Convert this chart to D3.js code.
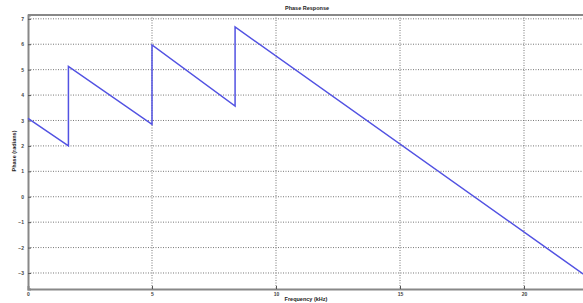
<!DOCTYPE html>
<html>
<head>
<meta charset="utf-8">
<script src="https://cdn.jsdelivr.net/npm/d3@7"></script>
<style>
  body { margin: 0; background: #fff; }
  svg { display: block; font-family: "Liberation Sans", Arial, sans-serif; }
</style>
</head>
<body>
<svg id="chart" width="583" height="303"></svg>
<script>
// vertices of the phase curve
var freq  = [0, 1.63, 1.63, 5.0, 5.0, 8.35, 8.35, 22.5];
var phase = [3.08, 2.0, 5.13, 2.85, 5.97, 3.57, 6.68, -3.12];
var xTicks = [0, 5, 10, 15, 20];
var yTicks = [-3, -2, -1, 0, 1, 2, 3, 4, 5, 6, 7];

function phaseChart(){
    var svg = d3.select('#chart');
    var pLeft = 28, pRight = 586, pTop = 15, pBottom = 289;

    var x = d3.scaleLinear().domain([0, 22.5]).range([pLeft, pRight]);
    var y = d3.scaleLinear().domain([-3.63, 7.15]).range([pBottom, pTop]);

    // grid
    svg.append('g').selectAll('line').data(xTicks.slice(1)).enter().append('line')
        .attr('x1', function(d){ return x(d); }).attr('x2', function(d){ return x(d); })
        .attr('y1', pTop).attr('y2', pBottom)
        .attr('stroke', '#777').attr('stroke-width', 1).attr('stroke-dasharray', '1,1.5');
    svg.append('g').selectAll('line').data(yTicks).enter().append('line')
        .attr('y1', function(d){ return y(d); }).attr('y2', function(d){ return y(d); })
        .attr('x1', pLeft).attr('x2', pRight)
        .attr('stroke', '#777').attr('stroke-width', 1).attr('stroke-dasharray', '1,1.5');

    // axes
    var xAxis = svg.append('g').attr('transform', 'translate(0,' + pBottom + ')')
        .call(d3.axisBottom(x).tickValues(xTicks).tickSize(-3).tickPadding(3));
    var yAxis = svg.append('g').attr('transform', 'translate(' + pLeft + ',0)')
        .call(d3.axisLeft(y).tickValues(yTicks).tickSize(-3).tickPadding(4));
    [xAxis, yAxis].forEach(function(a){
        a.select('.domain').attr('stroke', '#888').attr('stroke-width', 2);
        a.selectAll('.tick line').attr('stroke', '#555');
        a.selectAll('.tick text').attr('font-size', '5px').attr('font-weight', 'bold').attr('fill', '#444');
    });
    // top border
    svg.append('line').attr('x1', pLeft).attr('x2', pRight).attr('y1', pTop).attr('y2', pTop)
        .attr('stroke', '#888').attr('stroke-width', 2);

    // curve
    var pts = freq.map(function(f, i){ return [f, phase[i]]; });
    svg.append('path')
        .datum(pts)
        .attr('fill', 'none')
        .attr('stroke', '#5252e2')
        .attr('stroke-width', 1.5)
        .attr('d', d3.line().x(function(d){ return x(d[0]); }).y(function(d){ return y(d[1]); }));

    // labels
    svg.append('text').attr('x', 307).attr('y', 10).attr('text-anchor', 'middle')
        .attr('font-size', '5.5px').attr('font-weight', 'bold').attr('fill', '#222')
        .text('Phase Response');
    svg.append('text').attr('x', 306).attr('y', 301).attr('text-anchor', 'middle')
        .attr('font-size', '5.5px').attr('font-weight', 'bold').attr('fill', '#222')
        .text('Frequency (kHz)');
    svg.append('text').attr('transform', 'translate(16,151) rotate(-90)').attr('text-anchor', 'middle')
        .attr('font-size', '5.5px').attr('font-weight', 'bold').attr('fill', '#222')
        .text('Phase (radians)');
}
phaseChart();
</script>
</body>
</html>
